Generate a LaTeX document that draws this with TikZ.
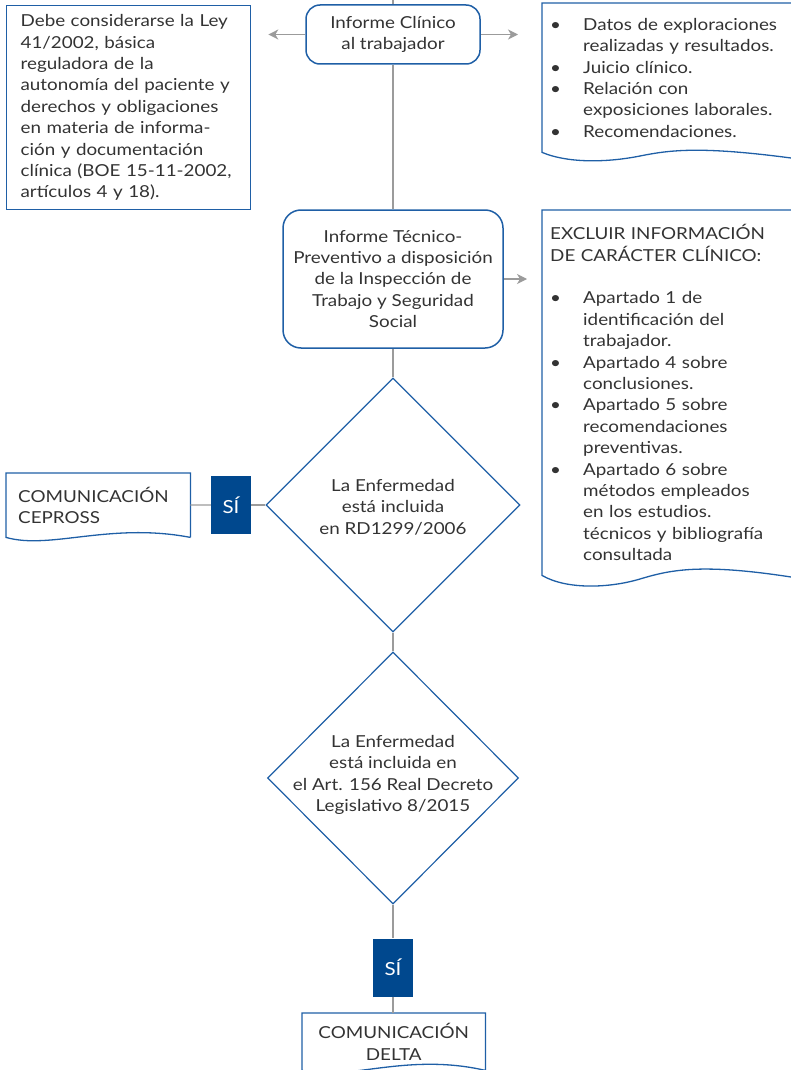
\documentclass[tikz,border=0pt]{standalone}
\usepackage{fontspec}
\setmainfont{Lato}[FakeStretch=1.14]
\usetikzlibrary{shapes.geometric,arrows.meta}
\definecolor{azul}{HTML}{1F5FA6}
\definecolor{azulsi}{HTML}{00488E}
\definecolor{gris}{HTML}{9B9B9B}
\definecolor{texto}{HTML}{333333}
\newcommand{\bul}{\makebox[33pt][l]{\textbullet}}
\newcommand{\sang}{\hspace*{33pt}}

\begin{document}
\begin{tikzpicture}[x=1pt,y=-1pt,
  txt/.style={font=\fontsize{16.5}{21.4}\selectfont, text=texto},
  borde/.style={draw=azul, line width=1.3pt},
  nota/.style={txt, borde, inner xsep=14pt, align=left},
  caja/.style={txt, borde, line width=1.5pt, rounded corners=14pt, align=center, inner sep=0pt},
  hoja/.style={txt, inner xsep=8pt, inner ysep=0pt, align=left},
  decision/.style={diamond, draw=azul, line width=1.2pt, inner sep=0pt},
  si/.style={fill=azulsi, text=white, font=\fontsize{18}{20}\selectfont, minimum width=40pt, minimum height=58pt, inner sep=0pt},
  linea/.style={draw=gris, line width=1.3pt},
  flecha/.style={linea, -{Stealth[length=10pt,width=10pt,inset=3pt]}}]
\useasboundingbox (0,0) rectangle (791,1070);
\clip (0,0) rectangle (791,1070);

\node[nota, text width=216pt, minimum height=204pt, anchor=north west] (ley) at (6,5)
  {Debe considerarse la Ley\\41/2002, básica\\reguladora de la\\autonomía del paciente y\\derechos y obligaciones\\en materia de informa-\\ción y documentación\\clínica (BOE 15-11-2002,\\artículos 4 y 18).};
\node[caja, minimum width=174pt, minimum height=59pt] (clin) at (393,34.5) {Informe Clínico\\al trabajador};
\node[hoja, text width=242pt, minimum height=149pt, anchor=north west] (datos) at (542,3)
  {\bul Datos de exploraciones\\
   \sang realizadas y resultados.\\
   \bul Juicio clínico.\\
   \bul Relación con\\
   \sang exposiciones laborales.\\
   \bul Recomendaciones.};
\draw[borde] (datos.north east) -- (datos.north west) -- (datos.south west)
  .. controls (570,164) and (610,162) .. (640,156) .. controls (670,150) and (700,146) .. (791,158) -- (800,159);

\node[caja, rounded corners=18pt, minimum width=220pt, minimum height=138pt] (tec) at (393,279)
  {Informe Técnico-\\Preventivo a disposición\\de la Inspección de\\Trabajo y Seguridad\\Social};
\node[hoja, text width=242pt, minimum height=365pt, anchor=north west] (excluir) at (542,210)
  {EXCLUIR INFORMACIÓN\\
   DE CARÁCTER CLÍNICO:\\[21.4pt]
   \bul Apartado 1 de\\
   \sang identificación del\\
   \sang trabajador.\\
   \bul Apartado 4 sobre\\
   \sang conclusiones.\\
   \bul Apartado 5 sobre\\
   \sang recomendaciones\\
   \sang preventivas.\\
   \bul Apartado 6 sobre\\
   \sang métodos empleados\\
   \sang en los estudios.\\
   \sang técnicos y bibliografía\\
   \sang consultada};
\draw[borde] (excluir.north east) -- (excluir.north west) -- (excluir.south west)
  .. controls (567,590) and (610,588) .. (640,579) .. controls (670,570) and (700,563) .. (791,577) -- (800,579);

\node[decision, minimum width=254pt, minimum height=254pt] (rd) at (393,505) {};
\node[txt, align=center] (rdtxt) at (393,507) {La Enfermedad\\está incluida\\en RD1299/2006};
\node[si] (si1) at (231,505) {SÍ};
\node[hoja, inner xsep=12pt, text width=160pt, minimum height=64pt, anchor=north west] (cepross) at (6,473)
  {COMUNICACIÓN\\CEPROSS};
\draw[borde] (cepross.south east) -- (cepross.north east) -- (cepross.north west) -- (cepross.south west)
  .. controls (50,550) and (110,522) .. (cepross.south east);

\node[decision, minimum width=251pt, minimum height=252pt] (art) at (393,778) {};
\node[txt, align=center] (arttxt) at (393,775) {La Enfermedad\\está incluida en\\el Art. 156 Real Decreto\\Legislativo 8/2015};
\node[si] (si2) at (393,967.5) {SÍ};
\node[hoja, align=center, inner xsep=10pt, text width=163pt, minimum height=57pt, anchor=north west] (delta) at (302,1013)
  {COMUNICACIÓN\\DELTA};
\draw[borde] (delta.south west) -- (delta.north west) -- (delta.north east) -- (delta.south east)
  .. controls (406,1052) and (346,1082) .. (delta.south west);

\coordinate (arriba) at (393,0);
\draw[linea] (arriba) -- (clin);
\draw[linea] (clin) -- (tec);
\draw[linea] (tec) -- (rd);
\draw[linea] (rd) -- (art);
\draw[linea] (art) -- (si2);
\draw[linea] (si2) -- (si2 |- delta.north);
\draw[linea] (rd) -- (si1);
\draw[linea] (si1) -- (cepross);
\draw[flecha, shorten >=17pt] (clin.west) -- (clin.west -| ley.east);
\draw[flecha, shorten >=24pt] (clin.east) -- (clin.east -| datos.west);
\draw[flecha, shorten >=15pt] (tec.east) -- (tec.east -| excluir.west);
\end{tikzpicture}
\end{document}
